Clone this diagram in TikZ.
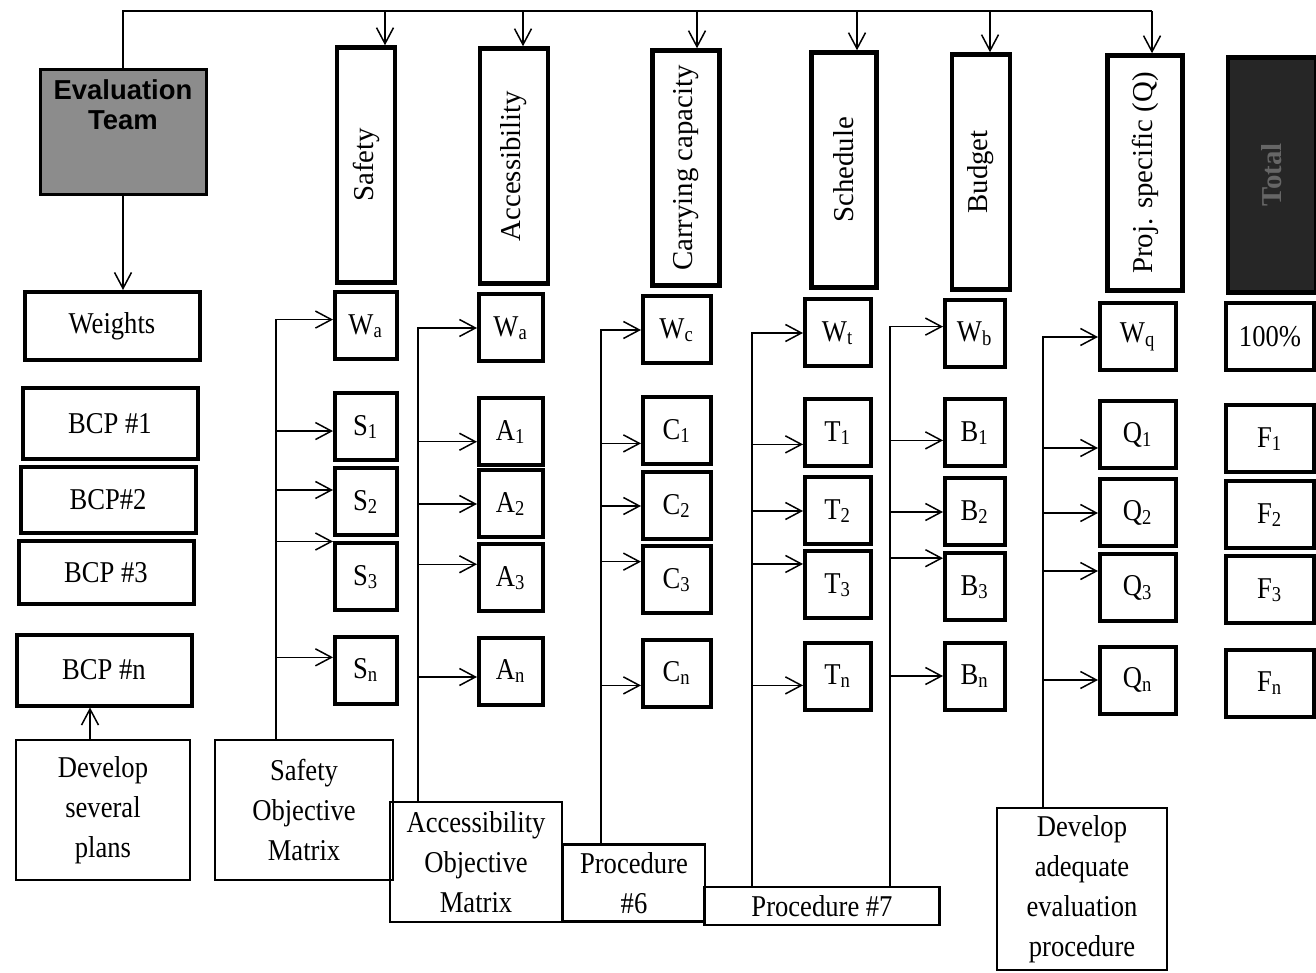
\documentclass[tikz,border=0pt]{standalone}
\usepackage{fontspec}
\setmainfont{Liberation Serif}[FakeStretch=0.88]
\newfontfamily\catfont{Liberation Serif}
\newfontfamily\teamfont{Liberation Sans}
\usetikzlibrary{arrows.meta, positioning, calc}

\begin{document}
\begin{tikzpicture}[
    x=0.1mm, y=-0.1mm,
    font=\fontsize{8.6}{11.4}\selectfont,
    plan/.style={draw=black, line width=0.4mm, minimum width=17.5mm, minimum height=6.8mm, inner sep=0pt},
    crit/.style={draw=black, line width=0.45mm, minimum height=23.5mm, inner sep=0pt, font=\catfont\fontsize{8.2}{10}\selectfont},
    cell/.style={draw=black, line width=0.4mm, minimum height=6.7mm, inner sep=0pt},
    sc/.style={cell, minimum width=6.2mm},
    ac/.style={cell, minimum width=6.4mm},
    cc/.style={cell, minimum width=6.8mm},
    tc/.style={cell, minimum width=6.6mm},
    bc/.style={cell, minimum width=6.0mm},
    qc/.style={cell, minimum width=7.6mm},
    fc/.style={cell, minimum width=8.8mm},
    note/.style={draw=black, line width=0.22mm, align=center, inner sep=0pt},
    link/.style={line width=0.15mm, draw=black},
    arrow/.style={-{Straight Barb[length=1.6mm, width=1.7mm]}, line width=0.15mm, draw=black}
  ]
    \useasboundingbox (0,0) rectangle (1316,973);

    % Team and plans on the left
    \node[draw=black, line width=0.3mm, fill=black!45, minimum width=16.6mm, minimum height=12.5mm, inner sep=0pt, font=\teamfont\bfseries\fontsize{7.8}{9}\selectfont] (team) at (123,132)
      {\raisebox{2.4mm}[\height][\depth]{\begin{tabular}{@{}c@{}}Evaluation\\[-0.5pt]Team\end{tabular}}};
    \node[plan] (weights) at (112,326) {Weights};
    \node[plan, minimum height=7.1mm] (bcp1) at (110,424) {BCP \#1};
    \node[plan, minimum height=6.6mm] (bcp2) at (108,500) {BCP\#2};
    \node[plan, minimum height=6.3mm] (bcp3) at (106,573) {BCP \#3};
    \node[plan, minimum height=7.1mm] (bcpn) at (104,670) {BCP \#n};
    \node[note, minimum width=17.4mm, minimum height=14mm] (dev) at (103,810) {Develop\\several\\plans};

    % Criteria
    \node[crit, minimum width=5.8mm] (safety) at (366,165) {\rotatebox{90}{Safety}};
    \node[crit, minimum width=6.8mm] (access) at (514,166) {\rotatebox{90}{Accessibility}};
    \node[crit, minimum width=6.7mm] (carry) at (686,168) {\rotatebox{90}{Carrying capacity}};
    \node[crit, minimum width=6.5mm] (sched) at (844,170) {\rotatebox{90}{Schedule}};
    \node[crit, minimum width=5.8mm] (budget) at (981,172) {\rotatebox{90}{Budget}};
    \node[crit, minimum width=7.5mm] (proj) at (1145,173) {\rotatebox{90}{Proj. specific (Q)}};
    \node[crit, minimum width=8.8mm, fill=black!85, text=black!60] (total) at (1272,175) {\rotatebox{90}{\bfseries Total}};

    % Score cells
    \node[sc] (sw) at (366,326) {W\textsubscript{a}};
    \node[sc] (s1) at (366,427) {S\textsubscript{1}};
    \node[sc] (s2) at (366,502) {S\textsubscript{2}};
    \node[sc] (s3) at (366,577) {S\textsubscript{3}};
    \node[sc] (sn) at (366,670) {S\textsubscript{n}};

    \node[ac] (aw) at (511,328) {W\textsubscript{a}};
    \node[ac] (a1) at (511,432) {A\textsubscript{1}};
    \node[ac] (a2) at (511,504) {A\textsubscript{2}};
    \node[ac] (a3) at (511,578) {A\textsubscript{3}};
    \node[ac] (an) at (511,671) {A\textsubscript{n}};

    \node[cc] (cw) at (677,330) {W\textsubscript{c}};
    \node[cc] (c1) at (677,431) {C\textsubscript{1}};
    \node[cc] (c2) at (677,506) {C\textsubscript{2}};
    \node[cc] (c3) at (677,580) {C\textsubscript{3}};
    \node[cc] (cn) at (677,673) {C\textsubscript{n}};

    \node[tc] (tw) at (838,333) {W\textsubscript{t}};
    \node[tc] (t1) at (838,433) {T\textsubscript{1}};
    \node[tc] (t2) at (838,511) {T\textsubscript{2}};
    \node[tc] (t3) at (838,585) {T\textsubscript{3}};
    \node[tc] (tn) at (838,676) {T\textsubscript{n}};

    \node[bc] (bw) at (975,334) {W\textsubscript{b}};
    \node[bc] (b1) at (975,433) {B\textsubscript{1}};
    \node[bc] (b2) at (975,512) {B\textsubscript{2}};
    \node[bc] (b3) at (975,587) {B\textsubscript{3}};
    \node[bc] (bn) at (975,676) {B\textsubscript{n}};

    \node[qc] (qw) at (1138,337) {W\textsubscript{q}};
    \node[qc] (q1) at (1138,435) {Q\textsubscript{1}};
    \node[qc] (q2) at (1138,513) {Q\textsubscript{2}};
    \node[qc] (q3) at (1138,588) {Q\textsubscript{3}};
    \node[qc] (qn) at (1138,680) {Q\textsubscript{n}};

    \node[fc] (fw) at (1270,337) {100\%};
    \node[fc] (f1) at (1270,439) {F\textsubscript{1}};
    \node[fc] (f2) at (1270,515) {F\textsubscript{2}};
    \node[fc] (f3) at (1270,590) {F\textsubscript{3}};
    \node[fc] (fn) at (1270,683) {F\textsubscript{n}};

    % Procedures at the bottom
    \node[note, minimum width=17.8mm, minimum height=14mm] (safm) at (304,810) {Safety\\Objective\\Matrix};
    \node[note, minimum width=17.2mm, minimum height=12mm] (accm) at (476,862) {Accessibility\\Objective\\Matrix};
    \node[note, minimum width=14.2mm, minimum height=7.7mm] (proc6) at (634,883) {Procedure\\\#6};
    \node[note, minimum width=23.5mm, minimum height=3.8mm] (proc7) at (822,906) {Procedure \#7};
    \node[note, minimum width=17mm, minimum height=16.2mm] (devq) at (1082,889) {Develop\\adequate\\evaluation\\procedure};

    % Top distribution line
    \coordinate (top) at (123,11);
    \draw[link] (team.north) -- (top) -- ([xshift=0.7mm]proj.north |- top);
    \draw[arrow] (team.south) -- (team.south |- weights.north);
    \draw[arrow] ([xshift=1.9mm]safety.north |- top) -- ([xshift=1.9mm]safety.north);
    \draw[arrow] ([xshift=0.9mm]access.north |- top) -- ([xshift=0.9mm]access.north);
    \draw[arrow] ([xshift=1.1mm]carry.north |- top) -- ([xshift=1.1mm]carry.north);
    \draw[arrow] ([xshift=1.3mm]sched.north |- top) -- ([xshift=1.3mm]sched.north);
    \draw[arrow] ([xshift=0.9mm]budget.north |- top) -- ([xshift=0.9mm]budget.north);
    \draw[arrow] ([xshift=0.7mm]proj.north |- top) -- ([xshift=0.7mm]proj.north);
    \draw[arrow] ([xshift=-1.3mm]dev.north) -- ([xshift=-1.3mm]dev.north |- bcpn.south);

    % Feeders
    \coordinate (sfeed) at ([xshift=-2.8mm]safm.north);
    \coordinate (afeed) at ([xshift=-5.8mm]accm.north);
    \coordinate (cfeed) at ([xshift=-3.3mm]proc6.north);
    \coordinate (tfeed) at ([xshift=-7.0mm]proc7.north);
    \coordinate (bfeed) at ([xshift=6.8mm]proc7.north);
    \coordinate (qfeed) at ([xshift=-3.9mm]devq.north);

    \draw[arrow] (sfeed) |- (sw.169);
    \draw[arrow] (sfeed |- s1.187) -- (s1.187);
    \draw[arrow] (sfeed |- s2.160) -- (s2.160);
    \draw[arrow] (sfeed |- s3.north west) -- (s3.north west);
    \draw[arrow] (sfeed |- sn.159) -- (sn.159);

    \draw[arrow] (afeed) |- (aw.west);
    \draw[arrow] (afeed |- a1.196) -- (a1.196);
    \draw[arrow] (afeed |- a2.west) -- (a2.west);
    \draw[arrow] (afeed |- a3.158) -- (a3.158);
    \draw[arrow] (afeed |- an.190) -- (an.190);

    \draw[arrow] (cfeed) |- (cw.west);
    \draw[arrow] (cfeed |- c1.199) -- (c1.199);
    \draw[arrow] (cfeed |- c2.west) -- (c2.west);
    \draw[arrow] (cfeed |- c3.153) -- (c3.153);
    \draw[arrow] (cfeed |- cn.199) -- (cn.199);

    \draw[arrow] (tfeed) |- (tw.west);
    \draw[arrow] (tfeed |- t1.198) -- (t1.198);
    \draw[arrow] (tfeed |- t2.west) -- (t2.west);
    \draw[arrow] (tfeed |- t3.149) -- (t3.149);
    \draw[arrow] (tfeed |- tn.195) -- (tn.195);

    \draw[arrow] (bfeed) |- (bw.167);
    \draw[arrow] (bfeed |- b1.193) -- (b1.193);
    \draw[arrow] (bfeed |- b2.west) -- (b2.west);
    \draw[arrow] (bfeed |- b3.138) -- (b3.138);
    \draw[arrow] (bfeed |- bn.west) -- (bn.west);

    \draw[arrow] (qfeed) |- (qw.west);
    \draw[arrow] (qfeed |- q1.198) -- (q1.198);
    \draw[arrow] (qfeed |- q2.west) -- (q2.west);
    \draw[arrow] (qfeed |- q3.157) -- (q3.157);
    \draw[arrow] (qfeed |- qn.west) -- (qn.west);
  \end{tikzpicture}
\end{document}
